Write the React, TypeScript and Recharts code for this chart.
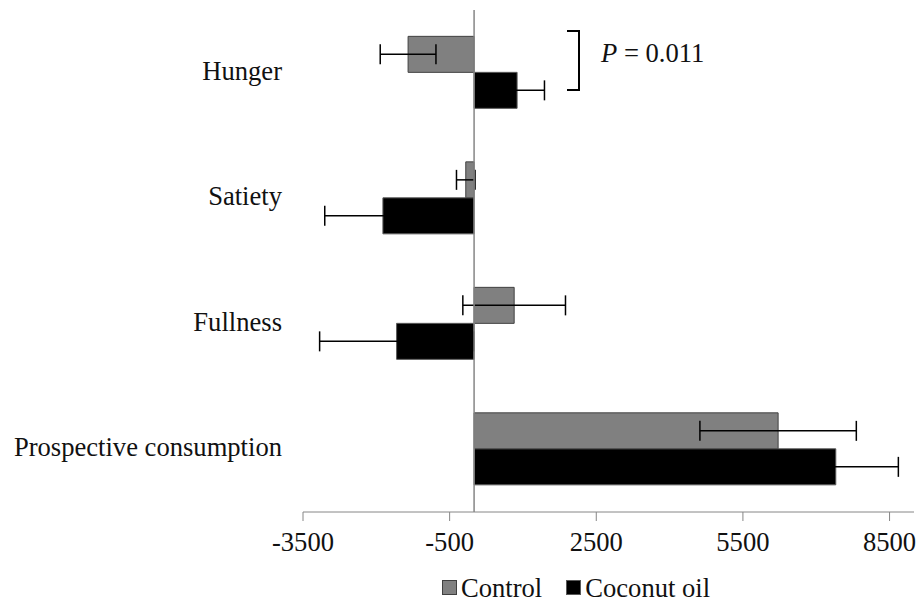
import React from "react";
import {
  Bar,
  BarChart,
  Customized,
  ErrorBar,
  ReferenceLine,
  XAxis,
  YAxis,
} from "recharts";

const categories = ["Hunger", "Satiety", "Fullness", "Prospective consumption"];
const controlValues = [-1350, -170, 820, 6220];
const controlErrors = [570, 190, 1050, 1600];
const coconutValues = [880, -1865, -1585, 7400];
const coconutErrors = [560, 1190, 1575, 1280];
const xTicks = [-3500, -500, 2500, 5500, 8500];

const data = categories.map((name, i) => ({
  name,
  control: controlValues[i],
  controlErr: controlErrors[i],
  coconut: coconutValues[i],
  coconutErr: coconutErrors[i],
}));

const FONT = '"Liberation Serif", "Times New Roman", serif';
const AXIS = "#868686";
const SIZE = 26.6;

function CategoryTick(props: any) {
  const { x, y, payload } = props;
  return (
    <text
      x={x}
      y={y}
      dy={7}
      textAnchor="end"
      fontFamily={FONT}
      fontSize={SIZE}
      fill="#111"
    >
      {payload.value}
    </text>
  );
}

// bracket + p-value between the two Hunger bars
function Bracket() {
  return (
    <g>
      <polyline
        points="567,31 579,31 579,90 567,90"
        fill="none"
        stroke="#000"
        strokeWidth={2}
      />
      <text x={601} y={62} fontFamily={FONT} fontSize={SIZE} fill="#111">
        <tspan fontStyle="italic">P</tspan> = 0.011
      </text>
    </g>
  );
}

function LegendBox({ fill, stroke, label }: { fill: string; stroke: string; label: string }) {
  return (
    <span style={{ display: "inline-flex", alignItems: "center", marginRight: 24 }}>
      <span
        style={{
          display: "inline-block",
          width: 13,
          height: 13,
          background: fill,
          border: `1px solid ${stroke}`,
          marginRight: 4,
        }}
      />
      <span>{label}</span>
    </span>
  );
}

export default function App() {
  return (
    <div style={{ position: "absolute", left: 0, top: 0, width: 917, height: 601, background: "#fff", overflow: "hidden" }}>
      <BarChart
        width={917}
        height={565}
        data={data}
        layout="vertical"
        margin={{ top: 10, right: 3, bottom: 13, left: 0 }}
        barCategoryGap="21%"
        barGap={0}
      >
        <XAxis
          type="number"
          domain={[-3500, 9000]}
          ticks={xTicks}
          allowDataOverflow
          stroke={AXIS}
          tickSize={9}
          tickMargin={11}
          height={40}
          tick={{ fill: "#111", fontFamily: FONT, fontSize: SIZE }}
        />
        <YAxis
          type="category"
          dataKey="name"
          width={303}
          axisLine={false}
          tickLine={false}
          tickSize={0}
          tickMargin={21}
          tick={<CategoryTick />}
        />
        <Bar
          dataKey="control"
          name="Control"
          fill="#808080"
          stroke="#404040"
          strokeWidth={1}
          isAnimationActive={false}
        >
          <ErrorBar dataKey="controlErr" direction="x" width={10} stroke="#000" strokeWidth={1.5} />
        </Bar>
        <Bar
          dataKey="coconut"
          name="Coconut oil"
          fill="#000"
          stroke="#595959"
          strokeWidth={1}
          isAnimationActive={false}
        >
          <ErrorBar dataKey="coconutErr" direction="x" width={10} stroke="#000" strokeWidth={1.5} />
        </Bar>
        <ReferenceLine x={0} stroke={AXIS} strokeWidth={1.5} />
        <Customized component={<Bracket />} />
      </BarChart>
      <div
        style={{
          position: "absolute",
          left: 442,
          top: 573,
          fontFamily: FONT,
          fontSize: SIZE,
          color: "#111",
          whiteSpace: "nowrap",
          lineHeight: "26px",
        }}
      >
        <LegendBox fill="#808080" stroke="#404040" label="Control" />
        <LegendBox fill="#000" stroke="#595959" label="Coconut oil" />
      </div>
    </div>
  );
}
